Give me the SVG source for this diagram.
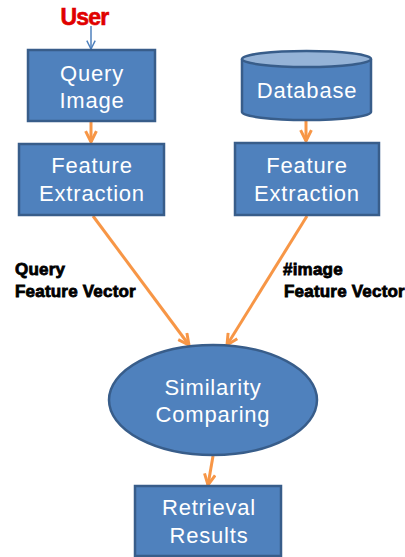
<svg xmlns="http://www.w3.org/2000/svg" width="405" height="557" viewBox="0 0 405 557">
<style>
.node{fill:#4F81BD;stroke:#385D8A;stroke-width:2.5}
.t{font-family:"Liberation Sans",Arial,sans-serif;font-size:22px;fill:#FFFFFF;text-anchor:middle;letter-spacing:0.8px}
.lbl{font-family:"Liberation Sans",Arial,sans-serif;font-size:17px;font-weight:bold;fill:#000;letter-spacing:0.2px;stroke:#000;stroke-width:0.8}
.o{stroke:#F79646;stroke-width:3;fill:none}
</style>
<defs>
<marker id="ao" viewBox="0 0 10 10" refX="9" refY="5" markerWidth="4.5" markerHeight="4.5" orient="auto" markerUnits="strokeWidth">
<path d="M1,1 L9,5 L1,9" fill="none" stroke="#F79646" stroke-width="2.2"/>
</marker>
<marker id="ab" viewBox="0 0 10 10" refX="9" refY="5" markerWidth="7" markerHeight="7" orient="auto" markerUnits="strokeWidth">
<path d="M1,1 L9,5 L1,9" fill="none" stroke="#4F81BD" stroke-width="1.4"/>
</marker>
</defs>
<rect width="405" height="557" fill="#FFFFFF"/>
<g id="connectors">
<line x1="91" y1="26" x2="91" y2="49" stroke="#4F81BD" stroke-width="1.5" marker-end="url(#ab)"/>
<line class="o" x1="91" y1="122" x2="91" y2="142" marker-end="url(#ao)"/>
<line class="o" x1="306" y1="120" x2="306" y2="141" marker-end="url(#ao)"/>
<line class="o" x1="93" y1="216" x2="189" y2="345" marker-end="url(#ao)"/>
<line class="o" x1="307" y1="216" x2="227" y2="345" marker-end="url(#ao)"/>
<line class="o" x1="213" y1="456" x2="208" y2="485" marker-end="url(#ao)"/>
</g>
<g id="user"><text x="84.5" y="25" font-family="Liberation Sans,Arial,sans-serif" font-size="23" font-weight="bold" fill="#E00000" stroke="#E00000" stroke-width="0.6" text-anchor="middle" letter-spacing="-0.8">User</text></g>
<g id="query-image">
<rect class="node" x="28" y="50" width="127" height="71"/>
<text class="t" x="92" y="81">Query</text>
<text class="t" x="92" y="108">Image</text>
</g>
<g id="database">
<path class="node" d="M242,59 L242,112 A64.5,8 0 0 0 371,112 L371,59"/>
<ellipse cx="306.5" cy="59" rx="64.5" ry="8" fill="#95B3D7" stroke="#385D8A" stroke-width="2.5"/>
<text class="t" x="307" y="98">Database</text>
</g>
<g id="feature-extraction-1">
<rect class="node" x="19" y="144" width="145" height="71"/>
<text class="t" x="92" y="173">Feature</text>
<text class="t" x="92" y="201">Extraction</text>
</g>
<g id="feature-extraction-2">
<rect class="node" x="235" y="143" width="144" height="72"/>
<text class="t" x="307" y="173">Feature</text>
<text class="t" x="307" y="201">Extraction</text>
</g>
<g id="label-query">
<text class="lbl" x="15" y="275">Query</text>
<text class="lbl" x="15" y="297">Feature Vector</text>
</g>
<g id="label-image">
<text class="lbl" x="283" y="275">#image</text>
<text class="lbl" x="284" y="297">Feature Vector</text>
</g>
<g id="similarity">
<ellipse class="node" cx="213" cy="400" rx="104" ry="55"/>
<text class="t" x="213" y="395">Similarity</text>
<text class="t" x="213" y="422">Comparing</text>
</g>
<g id="retrieval">
<rect class="node" x="135" y="486" width="146" height="70"/>
<text class="t" x="209" y="515">Retrieval</text>
<text class="t" x="209" y="543">Results</text>
</g>
</svg>
